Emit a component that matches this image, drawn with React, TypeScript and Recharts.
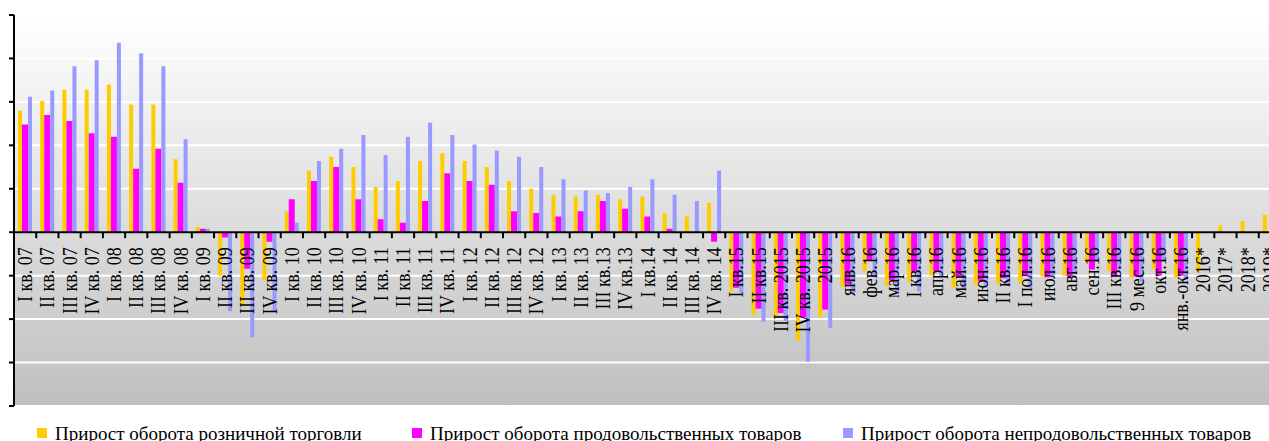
import React from 'react';
import { BarChart, Bar, XAxis, YAxis, CartesianGrid, ReferenceLine, Legend } from 'recharts';

const categories = [
  'I кв. 07', 'II кв. 07', 'III кв. 07', 'IV кв. 07',
  'I кв. 08', 'II кв. 08', 'III кв. 08', 'IV кв. 08',
  'I кв. 09', 'II кв. 09', 'III кв. 09', 'IV кв. 09',
  'I кв. 10', 'II кв. 10', 'III кв. 10', 'IV кв. 10',
  'I кв. 11', 'II кв. 11', 'III кв. 11', 'IV кв. 11',
  'I кв. 12', 'II кв. 12', 'III кв. 12', 'IV кв. 12',
  'I кв. 13', 'II кв. 13', 'III кв.13', 'IV кв.13',
  'I кв.14', 'II кв. 14', 'III кв. 14', 'IV кв. 14',
  'I кв.15', 'II кв.15', 'III кв. 2015', 'IV кв. 2015', '2015',
  'янв.16', 'фев.16', 'мар.16', 'I кв.16', 'апр.16', 'май.16', 'июн.16',
  'II кв.16', 'I пол.16', 'июл.16', 'авг.16', 'сен.16', 'III кв.16',
  '9 мес.16', 'окт.16', 'янв.-окт.16', '2016*', '2017*', '2018*', '2019*',
];

const retail = [
  14.0, 15.1, 16.4, 16.4,
  17.0, 14.7, 14.7, 8.4,
  0.6, -5.0, -8.4, -5.5,
  2.4, 7.1, 8.7, 7.5,
  5.2, 5.9, 8.2, 9.1,
  8.2, 7.5, 5.9, 5.0,
  4.3, 4.1, 4.3, 3.8,
  4.1, 2.2, 1.8, 3.4,
  -6.8, -9.5, -9.8, -12.5, -9.8,
  -6.3, -4.5, -6.2, -5.7, -5.0, -6.4, -6.1,
  -5.9, -5.9, -5.1, -5.0, -3.5, -4.5,
  -5.2, -4.3, -5.2, -4.5, 0.8, 1.3, 2.0,
];

const food = [
  12.4, 13.5, 12.8, 11.4,
  11.0, 7.3, 9.6, 5.7,
  0.4, -0.6, -4.2, -1.1,
  3.8, 5.9, 7.5, 3.8,
  1.5, 1.1, 3.6, 6.8,
  5.9, 5.45, 2.4, 2.2,
  1.8, 2.4, 3.6, 2.7,
  1.8, 0.4, -0.1, -1.1,
  -6.4, -8.8, -9.3, -9.8, -8.9,
  -6.0, -3.2, -5.5, -4.5, -4.5, -5.1, -5.6,
  -5.3, -5.0, -5.2, -5.1, -4.3, -5.0,
  -5.1, -5.0, -5.0, null, null, null, null,
];

const nonFood = [
  15.6, 16.3, 19.1, 19.8,
  21.8, 20.6, 19.1, 10.7,
  0.4, -9.1, -12.1, -9.1,
  1.1, 8.2, 9.6, 11.2,
  8.9, 11.0, 12.6, 11.2,
  10.1, 9.4, 8.7, 7.5,
  6.1, 4.8, 4.5, 5.2,
  6.1, 4.3, 3.6, 7.1,
  -7.0, -10.3, -10.2, -14.9, -11.0,
  -7.1, -5.2, -7.0, -6.8, -5.1, -6.6, -6.4,
  -6.2, -6.4, -5.2, -4.8, -3.4, -4.3,
  -5.7, -3.4, -5.5, null, null, null, null,
];

const yTicks = [-20, -15, -10, -5, 0, 5, 10, 15, 20, 25];
const seriesKeys = ['retail', 'food', 'nonFood'];
const seriesNames = [
  'Прирост оборота розничной торговли',
  'Прирост оборота продовольственных товаров',
  'Прирост оборота непродовольственных товаров',
];
const seriesColors = ['#FFCC00', '#FF00FF', '#9999FF'];
const seriesBarSizes = [4, 6, 4];
const legendLefts = [37, 412, 843];

const data = categories.map((label, i) => ({
  label,
  retail: retail[i],
  food: food[i],
  nonFood: nonFood[i],
}));

const FONT = "'Liberation Serif', 'Times New Roman', serif";
const CHART_W = 1281;
const CHART_H = 441;
const MARGIN = { top: 15, right: 0, bottom: 11, left: 0 };
const Y_AXIS_W = 14;
const X_AXIS_H = 1;
const LEGEND_H = 23;
const PLOT_W = CHART_W - MARGIN.left - MARGIN.right - Y_AXIS_W;
const PLOT_H = CHART_H - MARGIN.top - MARGIN.bottom - X_AXIS_H - LEGEND_H;
const Y_MIN = -20;
const Y_MAX = 25;
const ZERO_Y = MARGIN.top + (PLOT_H * Y_MAX) / (Y_MAX - Y_MIN);
const HALF_BAND = PLOT_W / categories.length / 2;

const CategoryTick = (props: any) => {
  const { x, payload } = props;
  return (
    <g>
      <line
        x1={x + HALF_BAND}
        x2={x + HALF_BAND}
        y1={ZERO_Y}
        y2={ZERO_Y + 6}
        stroke="#000"
        strokeWidth={2}
      />
      <text
        transform={`translate(${x + 7},${ZERO_Y + 15}) rotate(-90) scale(1,1.22)`}
        textAnchor="end"
        fontFamily={FONT}
        fontSize={18}
        fill="#000"
      >
        {payload.value}
      </text>
    </g>
  );
};

const EmptyTick = () => <g />;

const renderLegend = () => (
  <div style={{ position: 'relative', width: 1269, height: LEGEND_H, fontFamily: FONT, fontSize: 19, color: '#000' }}>
    {seriesNames.map((name, i) => (
      <div key={name} style={{ position: 'absolute', left: legendLefts[i], top: 0, height: LEGEND_H, whiteSpace: 'nowrap' }}>
        <span
          style={{
            position: 'absolute',
            left: 0,
            top: 10,
            width: 10,
            height: 10,
            background: seriesColors[i],
          }}
        />
        <span style={{ position: 'absolute', left: 18, top: 6, lineHeight: '19px' }}>{name}</span>
      </div>
    ))}
  </div>
);

export default function App() {
  return (
    <div
      style={{
        position: 'absolute',
        left: 0,
        top: 0,
        width: 1269,
        height: 441,
        overflow: 'hidden',
        background: '#fff',
      }}
    >
      <BarChart width={CHART_W} height={CHART_H} data={data} margin={MARGIN} barGap={0}>
        <defs>
          <linearGradient id="plotBg" x1="0" y1="0" x2="0" y2="1">
            <stop offset="0%" stopColor="#ffffff" />
            <stop offset="100%" stopColor="#bfbfbf" />
          </linearGradient>
        </defs>
        <CartesianGrid vertical={false} stroke="#ffffff" strokeWidth={2} fill="url(#plotBg)" />
        <YAxis
          domain={[Y_MIN, Y_MAX]}
          ticks={yTicks}
          interval={0}
          width={Y_AXIS_W}
          allowDataOverflow
          axisLine={{ stroke: '#000', strokeWidth: 2 }}
          tickLine={{ stroke: '#000', strokeWidth: 2 }}
          tickSize={5}
          tick={EmptyTick}
        />
        {seriesKeys.map((key, i) => (
          <Bar
            key={key}
            dataKey={key}
            name={seriesNames[i]}
            fill={seriesColors[i]}
            barSize={seriesBarSizes[i]}
            isAnimationActive={false}
          />
        ))}
        <ReferenceLine y={0} stroke="#000" strokeWidth={2} />
        <XAxis
          dataKey="label"
          interval={0}
          height={X_AXIS_H}
          axisLine={false}
          tickLine={false}
          tick={CategoryTick}
        />
        <Legend
          verticalAlign="bottom"
          content={renderLegend}
          wrapperStyle={{ left: 0, bottom: 0, top: 'auto', width: 1269, height: LEGEND_H }}
        />
      </BarChart>
    </div>
  );
}
